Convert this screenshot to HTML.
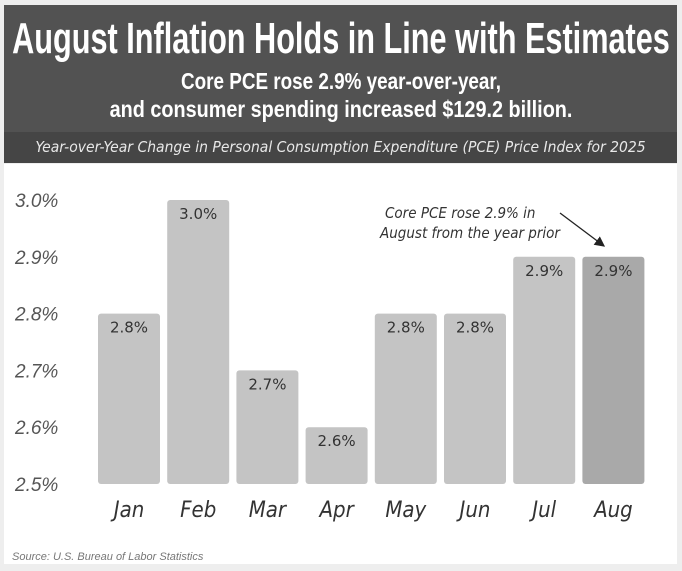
<!DOCTYPE html>
<html><head><meta charset="utf-8"><style>
body{margin:0;width:682px;height:571px;background:#eeeeee;font-family:"Liberation Sans",sans-serif;overflow:hidden;position:relative}
.hdr{position:absolute;left:4px;top:5px;width:673px;height:127px;background:#525252;color:#fff;overflow:hidden}
.t{position:absolute;left:0;width:673px;height:50px;font-weight:bold;white-space:nowrap}
.t span{position:absolute;left:50%;top:0;white-space:nowrap;transform-origin:center}
.sub{position:absolute;left:4px;top:132px;width:673px;height:31px;background:#454545;color:#e8e8e8;font-style:italic;font-size:15.5px;text-align:center;line-height:30px;font-family:"DejaVu Sans Condensed","Liberation Sans",sans-serif}
.panel{position:absolute;left:4px;top:164px;width:673px;height:400px;background:#fff}
</style></head><body>
<div class="hdr">
<div class="t" style="top:9px;font-size:44px"><span data-w="658">August Inflation Holds in Line with Estimates</span></div>
<div class="t" style="top:63px;font-size:23px"><span data-w="320">Core PCE rose 2.9% year-over-year,</span></div>
<div class="t" style="top:91px;font-size:23px"><span data-w="463">and consumer spending increased $129.2 billion.</span></div>
</div>
<div class="sub">Year-over-Year Change in Personal Consumption Expenditure (PCE) Price Index for 2025</div>
<div class="panel"></div>
<svg id="c" width="682" height="571" style="position:absolute;left:0;top:0">
<defs><marker id="ah" markerWidth="8" markerHeight="8" refX="7" refY="4" orient="auto"><path d="M0,0 L8,4 L0,8 z" fill="#222"/></marker></defs>
<text x="385" y="218" font-size="15" font-style="italic" fill="#333" font-family="DejaVu Sans Condensed,Liberation Sans,sans-serif">Core PCE rose 2.9% in</text>
<text x="380" y="238" font-size="15" font-style="italic" fill="#333" font-family="DejaVu Sans Condensed,Liberation Sans,sans-serif">August from the year prior</text>
<line x1="560" y1="213" x2="604" y2="246" stroke="#222" stroke-width="1.3" marker-end="url(#ah)"/>
<text x="12" y="560" font-size="11" font-style="italic" fill="#777">Source: U.S. Bureau of Labor Statistics</text>
</svg>
<script>
const categories=["Jan","Feb","Mar","Apr","May","Jun","Jul","Aug"];
const values=[2.8,3.0,2.7,2.6,2.8,2.8,2.9,2.9];
const yTicks=[2.5,2.6,2.7,2.8,2.9,3.0];
document.querySelectorAll('.t span').forEach(s=>{const w=s.offsetWidth;s.style.transform='translateX(-50%) scaleX('+(+s.dataset.w/w)+')';});
const svg=document.getElementById('c');const NS="http://www.w3.org/2000/svg";
const y=v=>484-(v-2.5)/0.1*56.8;
const x=i=>98+i*69.2;
function mk(t,a,txt){const e=document.createElementNS(NS,t);for(const k in a)e.setAttribute(k,a[k]);if(txt!=null)e.textContent=txt;svg.appendChild(e);return e;}
yTicks.forEach(v=>{const e=mk('text',{x:15,y:y(v)+7,'font-size':19,'font-style':'italic',fill:'#555'},v.toFixed(1)+'%');

});
categories.forEach((c,i)=>{
const last=i===categories.length-1;
const r=mk('rect',{x:x(i),y:y(values[i]),width:62,height:484-y(values[i]),rx:3,fill:last?'#a9a9a9':'#c4c4c4'});


const l=mk('text',{x:x(i)+31,y:y(values[i])+19,'font-size':15,'text-anchor':'middle',fill:'#333','font-family':'DejaVu Sans,sans-serif'},values[i].toFixed(1)+'%');


const t=mk('text',{x:x(i)+31,y:517,'font-size':22,'font-style':'italic','text-anchor':'middle',fill:'#333','font-family':'DejaVu Sans Condensed,Liberation Sans,sans-serif'},c);


});
</script>
</body></html>
